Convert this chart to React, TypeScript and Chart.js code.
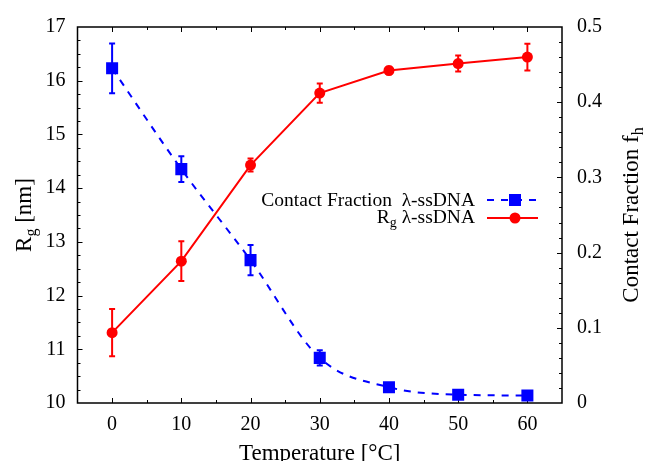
import React, { useEffect, useRef } from 'react';
import { Chart, registerables } from 'chart.js';

Chart.register(...registerables);

const TEMPS = [0, 10, 20, 30, 40, 50, 60];
const RG = [11.31, 12.64, 14.43, 15.77, 16.19, 16.32, 16.44];
const RG_ERR = [0.44, 0.37, 0.12, 0.18, 0.07, 0.15, 0.25];
const CF = [0.445, 0.311, 0.19, 0.06, 0.021, 0.011, 0.01];
const CF_ERR = [0.033, 0.017, 0.02, 0.01, 0.003, 0.0, 0.0];

const X_TICKS = [0, 10, 20, 30, 40, 50, 60];
const Y_TICKS = [10, 11, 12, 13, 14, 15, 16, 17];
const Y2_TICKS = [0, 0.1, 0.2, 0.3, 0.4, 0.5];

const X_TITLE = 'Temperature [°C]';
const LEG_CF = 'Contact Fraction  λ-ssDNA';
const LEG_RG_MAIN = 'R';
const LEG_RG_SUB = 'g';
const LEG_RG_REST = ' λ-ssDNA';

const FONT = '"Liberation Serif", "Times New Roman", serif';
const RED = '#ff0000';
const BLUE = '#0000ff';

const framePlugin = {
  id: 'frameTicks',
  beforeDatasetsDraw(chart: any) {
    const { ctx, chartArea: a, scales } = chart;
    const x = scales.x, y = scales.y, y2 = scales.y2;
    ctx.save();
    ctx.strokeStyle = '#000';
    ctx.lineWidth = 1;
    const major = 5, minor = 3;
    for (let v = -5; v <= 65; v += 5) {
      const px = Math.round(x.getPixelForValue(v)) + 0.5;
      if (px <= a.left + 1 || px >= a.right - 1) continue;
      const len = v % 10 === 0 ? major : minor;
      ctx.beginPath();
      ctx.moveTo(px, a.bottom); ctx.lineTo(px, a.bottom - len);
      ctx.moveTo(px, a.top); ctx.lineTo(px, a.top + len);
      ctx.stroke();
    }
    for (let i = 0; i <= 28; i++) {
      const v = 10 + i * 0.25;
      const py = Math.round(y.getPixelForValue(v)) + 0.5;
      if (py <= a.top + 1 || py >= a.bottom - 1) continue;
      const len = i % 4 === 0 ? major : minor;
      ctx.beginPath();
      ctx.moveTo(a.left, py); ctx.lineTo(a.left + len, py);
      ctx.stroke();
    }
    for (let i = 0; i <= 25; i++) {
      const v = i * 0.02;
      const py = Math.round(y2.getPixelForValue(v)) + 0.5;
      if (py <= a.top + 1 || py >= a.bottom - 1) continue;
      const len = i % 5 === 0 ? major : minor;
      ctx.beginPath();
      ctx.moveTo(a.right, py); ctx.lineTo(a.right - len, py);
      ctx.stroke();
    }
    ctx.lineWidth = 1.5;
    ctx.strokeRect(a.left, a.top, a.right - a.left, a.bottom - a.top);

    const drawErr = (vals: number[], errs: number[], sc: any, color: string) => {
      ctx.strokeStyle = color;
      ctx.lineWidth = 2;
      for (let i = 0; i < TEMPS.length; i++) {
        if (!errs[i]) continue;
        const px = x.getPixelForValue(TEMPS[i]);
        const top = sc.getPixelForValue(vals[i] + errs[i]);
        const bot = sc.getPixelForValue(vals[i] - errs[i]);
        ctx.beginPath();
        ctx.moveTo(px, top); ctx.lineTo(px, bot);
        ctx.moveTo(px - 3, top); ctx.lineTo(px + 3, top);
        ctx.moveTo(px - 3, bot); ctx.lineTo(px + 3, bot);
        ctx.stroke();
      }
    };
    drawErr(RG, RG_ERR, y, RED);
    drawErr(CF, CF_ERR, y2, BLUE);
    ctx.restore();
  },
  afterDraw(chart: any) {
    const { ctx, chartArea: a } = chart;
    ctx.save();
    ctx.fillStyle = '#000';
    const cx = (a.left + a.right) / 2;
    const cy = (a.top + a.bottom) / 2;
    const tf = '23px ' + FONT;
    const sf = '16px ' + FONT;
    ctx.textBaseline = 'alphabetic';

    ctx.font = tf;
    ctx.textAlign = 'center';
    ctx.fillText(X_TITLE, cx, 460);

    const rotTitle = (main: string, sub: string, rest: string, bx: number) => {
      ctx.font = tf;
      const w1 = ctx.measureText(main).width;
      const w3 = ctx.measureText(rest).width;
      ctx.font = sf;
      const w2 = ctx.measureText(sub).width;
      const total = w1 + w2 + w3;
      ctx.save();
      ctx.translate(bx, cy);
      ctx.rotate(-Math.PI / 2);
      ctx.textAlign = 'left';
      let xx = -total / 2;
      ctx.font = tf;
      ctx.fillText(main, xx, 0);
      xx += w1;
      ctx.font = sf;
      ctx.fillText(sub, xx, 5);
      xx += w2;
      ctx.font = tf;
      ctx.fillText(rest, xx, 0);
      ctx.restore();
    };
    rotTitle('R', 'g', ' [nm]', 31);
    rotTitle('Contact Fraction f', 'h', '', 638);

    const lf = '19.5px ' + FONT;
    const lsf = '14px ' + FONT;
    const rightX = 475;
    ctx.font = lf;
    ctx.textAlign = 'right';
    ctx.fillText(LEG_CF, rightX, 206);
    const wRest = ctx.measureText(LEG_RG_REST).width;
    ctx.fillText(LEG_RG_REST, rightX, 223);
    ctx.font = lsf;
    const wSub = ctx.measureText(LEG_RG_SUB).width;
    ctx.fillText(LEG_RG_SUB, rightX - wRest, 227);
    ctx.font = lf;
    ctx.fillText(LEG_RG_MAIN, rightX - wRest - wSub, 223);

    ctx.lineWidth = 2;
    ctx.strokeStyle = BLUE;
    ctx.setLineDash([7, 7]);
    ctx.beginPath();
    ctx.moveTo(487, 200); ctx.lineTo(538, 200);
    ctx.stroke();
    ctx.setLineDash([]);
    ctx.fillStyle = BLUE;
    ctx.fillRect(515 - 6, 200 - 6, 12, 12);
    ctx.strokeStyle = RED;
    ctx.beginPath();
    ctx.moveTo(487, 218); ctx.lineTo(538, 218);
    ctx.stroke();
    ctx.fillStyle = RED;
    ctx.beginPath();
    ctx.arc(515, 218, 5.5, 0, Math.PI * 2);
    ctx.fill();
    ctx.restore();
  },
};

export default function App() {
  const ref = useRef<HTMLCanvasElement>(null);
  useEffect(() => {
    if (!ref.current) return;
    const tickFont = { family: FONT, size: 20 };
    const chart = new Chart(ref.current, {
      type: 'line',
      data: {
        datasets: [
          {
            label: 'Contact Fraction λ-ssDNA',
            data: TEMPS.map((t, i) => ({ x: t, y: CF[i] })),
            yAxisID: 'y2',
            borderColor: BLUE,
            backgroundColor: BLUE,
            borderWidth: 2,
            borderDash: [7, 7],
            pointStyle: 'rect',
            pointRadius: 8.5,
            pointHoverRadius: 8.5,
            pointBorderWidth: 0,
            cubicInterpolationMode: 'monotone',
            fill: false,
          },
          {
            label: 'Rg λ-ssDNA',
            data: TEMPS.map((t, i) => ({ x: t, y: RG[i] })),
            yAxisID: 'y',
            borderColor: RED,
            backgroundColor: RED,
            borderWidth: 2,
            pointStyle: 'circle',
            pointRadius: 5.5,
            pointHoverRadius: 5.5,
            pointBorderWidth: 0,
            tension: 0,
            fill: false,
          },
        ],
      },
      options: {
        animation: false,
        responsive: false,
        events: [],
        layout: { padding: { top: 13, left: 0, right: 0, bottom: 0 } },
        plugins: { legend: { display: false }, tooltip: { enabled: false } },
        scales: {
          x: {
            type: 'linear',
            position: 'bottom',
            min: -5,
            max: 65,
            grid: { display: false, drawTicks: false },
            border: { display: false },
            afterBuildTicks: (s: any) => { s.ticks = X_TICKS.map((v) => ({ value: v })); },
            afterFit: (s: any) => { s.height = 58; },
            ticks: { font: tickFont, color: '#000', padding: 10, maxRotation: 0, callback: (v: any) => String(v) },
          },
          y: {
            type: 'linear',
            position: 'left',
            min: 10,
            max: 17,
            grid: { display: false, drawTicks: false },
            border: { display: false },
            afterBuildTicks: (s: any) => { s.ticks = Y_TICKS.map((v) => ({ value: v })); },
            afterFit: (s: any) => { s.width = 77.5; },
            ticks: { font: tickFont, color: '#000', padding: 12, callback: (v: any) => String(v) },
          },
          y2: {
            type: 'linear',
            position: 'right',
            min: 0,
            max: 0.5,
            grid: { display: false, drawTicks: false },
            border: { display: false },
            afterBuildTicks: (s: any) => { s.ticks = Y2_TICKS.map((v) => ({ value: v })); },
            afterFit: (s: any) => { s.width = 94; },
            ticks: { font: tickFont, color: '#000', padding: 15, callback: (v: any) => String(v) },
          },
        },
      },
      plugins: [framePlugin],
    } as any);
    return () => chart.destroy();
  }, []);
  return (
    <div style={{ position: 'absolute', left: 0, top: 0, width: 656, height: 461, background: '#fff' }}>
      <canvas ref={ref} width={656} height={461} style={{ display: 'block' }} />
    </div>
  );
}
